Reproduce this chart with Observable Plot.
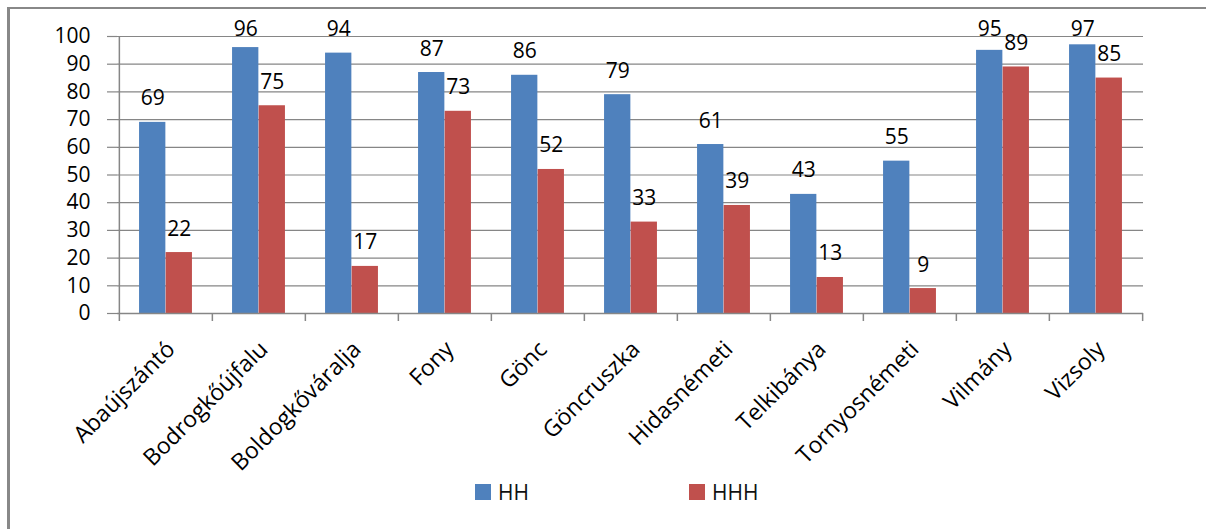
<!DOCTYPE html>
<html>
<head>
<meta charset="utf-8">
<script src="https://cdn.jsdelivr.net/npm/d3@7"></script>
<script src="https://cdn.jsdelivr.net/npm/@observablehq/plot@0.6"></script>
<style>
  html, body { margin: 0; padding: 0; background: #fff; }
  body { width: 1206px; height: 529px; position: relative; overflow: hidden; font-family: "Open Sans", sans-serif; }
  #frame { position: absolute; left: 7px; top: 7px; right: -10px; bottom: -10px; border-left: 3px solid #888; border-top: 2px solid #888; }
  #chart { position: absolute; left: 0; top: 0; }
  #legend { position: absolute; left: 0; top: 480px; width: 1206px; height: 24px; font-size: 21px; color: #111; }
  .item { position: absolute; top: 0; display: flex; align-items: center; height: 24px; }
  .sw { width: 16px; height: 16px; margin-right: 7px; }
</style>
</head>
<body>
<div id="frame"></div>
<div id="chart"></div>
<div id="legend"></div>
<script>
const categories = ["Abaújszántó","Bodrogkőújfalu","Boldogkőváralja","Fony","Gönc","Göncruszka","Hidasnémeti","Telkibánya","Tornyosnémeti","Vilmány","Vizsoly"];
const seriesNames = ["HH", "HHH"];
const hhValues  = [69, 96, 94, 87, 86, 79, 61, 43, 55, 95, 97];
const hhhValues = [22, 75, 17, 73, 52, 33, 39, 13, 9, 89, 85];
const yTicks = [0,10,20,30,40,50,60,70,80,90,100];
const colors = ["#4F81BD", "#C0504D"];

const data = [];
categories.forEach((c, i) => {
  data.push({cat: c, series: "HH", value: hhValues[i]});
  data.push({cat: c, series: "HHH", value: hhhValues[i]});
});
const hh = data.filter(d => d.series === "HH");
const hhh = data.filter(d => d.series === "HHH");

const W = 1206, H = 470;
const mL = 117, mR = 63, mT = 36, mB = 157;
const bw = (W - mL - mR) / categories.length;
const barW = bw * 0.285;
const half = bw / 2;
const grid = "#868686";

const chart = Plot.plot({
  width: W, height: H,
  marginLeft: mL, marginRight: mR, marginTop: mT, marginBottom: mB,
  style: {fontFamily: "Open Sans, sans-serif", background: "transparent", overflow: "visible"},
  x: {domain: categories, padding: 0},
  y: {domain: [0, 100]},
  marks: [
    Plot.gridY(yTicks, {stroke: grid, strokeOpacity: 1, strokeWidth: 1.2}),
    Plot.axisY(yTicks, {tickSize: 10, tickPadding: 17, fontSize: 21, stroke: grid, strokeWidth: 1.2, fill: "#000", label: null}),
    Plot.barY(hh, {x: "cat", y: "value", fill: colors[0], insetLeft: half - barW, insetRight: half}),
    Plot.barY(hhh, {x: "cat", y: "value", fill: colors[1], insetLeft: half, insetRight: half - barW}),
    Plot.text(hh, {x: "cat", y: d => Math.min(d.value, 94), text: d => String(d.value), dx: -barW / 2, dy: -17, lineAnchor: "bottom", fontSize: 21, fill: "#000"}),
    Plot.text(hhh, {x: "cat", y: d => Math.min(d.value, 94), text: d => String(d.value), dx: barW / 2, dy: -17, lineAnchor: "bottom", fontSize: 21, fill: "#000"}),
    Plot.ruleY([0], {stroke: grid, strokeWidth: 1.5}),
    Plot.ruleX([0], {x: () => categories[0], dx: -half, y1: 0, y2: 100, stroke: grid, strokeWidth: 1.5}),
    Plot.axisX({tickSize: 8, text: null, dx: -half, stroke: grid, strokeWidth: 1.5, label: null}),
    Plot.ruleX([categories[categories.length - 1]], {dx: half, y1: 0, y2: -2.9, stroke: grid, strokeWidth: 1.5}),
    Plot.axisX({tickSize: 0, tickPadding: 32, tickRotate: -45, fontSize: 23, dx: 5, fill: "#000", label: null})
  ]
});
document.getElementById("chart").appendChild(chart);

const legend = document.getElementById("legend");
const legendX = [475, 689];
seriesNames.forEach((s, i) => {
  const item = document.createElement("div");
  item.className = "item";
  item.style.left = legendX[i] + "px";
  const sw = document.createElement("div");
  sw.className = "sw";
  sw.style.background = colors[i];
  const t = document.createElement("span");
  t.textContent = s;
  item.appendChild(sw);
  item.appendChild(t);
  legend.appendChild(item);
});
</script>
</body>
</html>
